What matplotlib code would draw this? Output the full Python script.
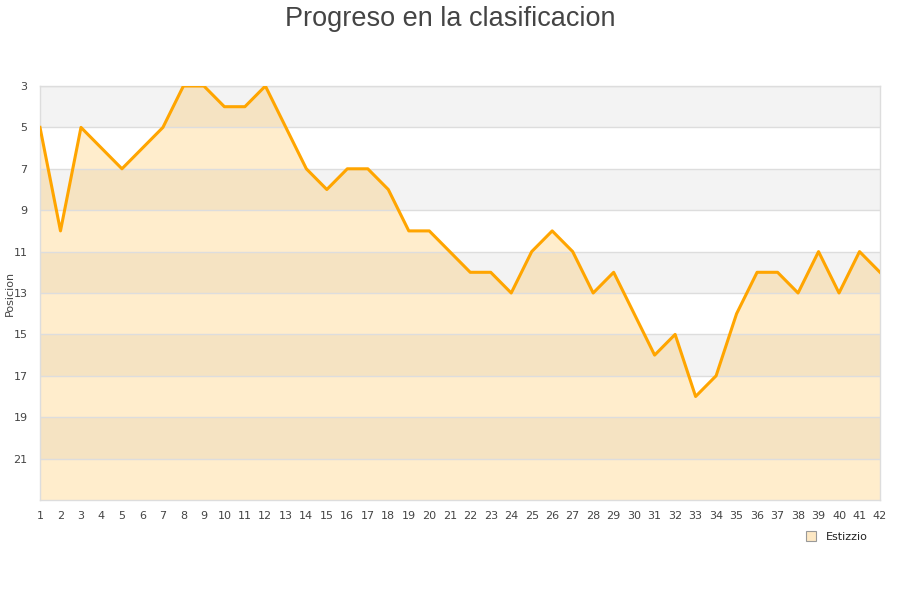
import matplotlib
matplotlib.use("Agg")
import matplotlib.pyplot as plt
from matplotlib.lines import Line2D

rounds = list(range(1, 43))
positions = [5, 10, 5, 6, 7, 6, 5, 3, 3, 4, 4, 3, 5, 7, 8, 7, 7, 8, 10, 10,
             11, 12, 12, 13, 11, 10, 11, 13, 12, 14, 16, 15, 18, 17, 14, 12,
             12, 13, 11, 13, 11, 12]
team = "Estizzio"
title = "Progreso en la clasificacion"
ylabel = "Posicion"
yticks = [3, 5, 7, 9, 11, 13, 15, 17, 19, 21]

fig = plt.figure(figsize=(9, 6), dpi=100)
ax = fig.add_axes([40/900, 100/600, 840/900, 414/600])

# alternating bands
for i, lo in enumerate(range(3, 23, 2)):
    if i % 2 == 0:
        ax.axhspan(lo, lo + 2, color="#f3f3f3", zorder=0, lw=0)

ax.fill_between(rounds, positions, 23, color="#ffa500", alpha=0.2, lw=0, zorder=1)
ax.plot(rounds, positions, color="#ffa500", lw=2.2, zorder=3)

ax.set_xlim(1, 42)
ax.set_ylim(23, 3)
ax.set_yticks(yticks)
ax.set_xticks(rounds)
ax.grid(axis="y", color="#dddddd", lw=1, zorder=2)
ax.set_axisbelow(False)
for s in ax.spines.values():
    s.set_color("#dddddd")
    s.set_linewidth(1)
ax.tick_params(length=0, labelsize=8, colors="#444444", pad=8)
ax.tick_params(axis="y", pad=9)

ax.set_ylabel(ylabel, fontsize=8, color="#444444")
ax.yaxis.set_label_coords(-0.0298, 0.5)

fig.text(0.5, 0.99, title, ha="center", va="top", fontsize=19.5,
         family="Liberation Sans", color="#444444")

handle = Line2D([], [], marker="s", ls="none", markersize=7,
                markerfacecolor="#fde8c4", markeredgecolor="#999999", markeredgewidth=0.8)
fig.legend([handle], [team], loc="center right", bbox_to_anchor=(0.975, 0.105),
           frameon=False, fontsize=8, handletextpad=0.3, labelcolor="#222222")

fig.savefig("out.png", dpi=100)
